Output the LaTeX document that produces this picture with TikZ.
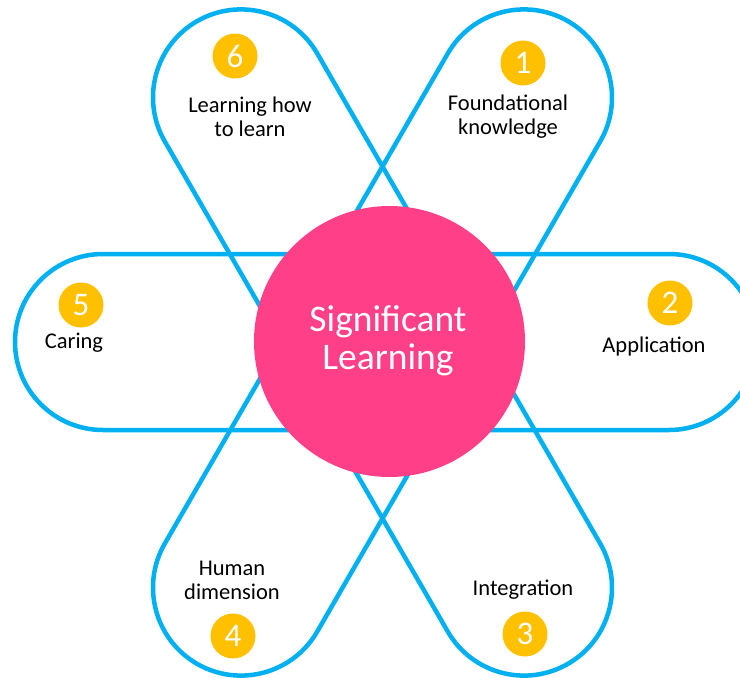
\documentclass[tikz,border=0pt]{standalone}
\usepackage{fontspec}
\setmainfont{Carlito}
\definecolor{sky}{HTML}{00B0F0}
\definecolor{rose}{HTML}{FF4088}
\definecolor{gold}{HTML}{FFC000}
\begin{document}
\begin{tikzpicture}[x=1pt,y=-1pt,
  stadium/.style={shape=rectangle, draw=sky, line width=4.5pt, rounded corners=88pt,
    minimum width=742pt, minimum height=176pt, inner sep=0pt, outer sep=0pt},
  badge/.style={circle, fill=gold, minimum size=45pt, inner sep=0pt, text=white,
    font=\fontsize{33}{33}\selectfont},
  lbl/.style={align=center, font=\fontsize{22.5}{24}\selectfont, text=black, inner sep=0pt},
  core/.style={circle, fill=rose, minimum size=271pt, inner sep=0pt},
  coretext/.style={align=center, text=white, font=\fontsize{37.5}{38}\selectfont, inner sep=0pt}
]
\useasboundingbox (0,0) rectangle (740,678);
% three petals
\node[stadium] (h) at (386,342) {};
\node[stadium, rotate=60] (d1) at (382.5,342.5) {};
\node[stadium, rotate=120] (d2) at (382.5,342.5) {};
% centre
\node[core] (c) at (389.5,341.5) {};
\node[coretext] (ct) at (388,341) {Significant\\Learning};
% badges
\node[badge] (b1) at (523,63) {1};
\node[badge] (b2) at (670,303) {2};
\node[badge] (b3) at (525,634) {3};
\node[badge] (b4) at (233,636) {4};
\node[badge] (b5) at (81,305) {5};
\node[badge] (b6) at (235,56) {6};
% labels
\node[lbl] (l1) at (508,117) {Foundational\\knowledge};
\node[lbl] (l2) at (654,346) {Application};
\node[lbl] (l3) at (523,590) {Integration};
\node[lbl] (l4) at (232,580) {Human\\dimension};
\node[lbl] (l5) at (74,343) {Caring};
\node[lbl] (l6) at (250,116.5) {Learning how\\to learn};
\end{tikzpicture}
\end{document}
